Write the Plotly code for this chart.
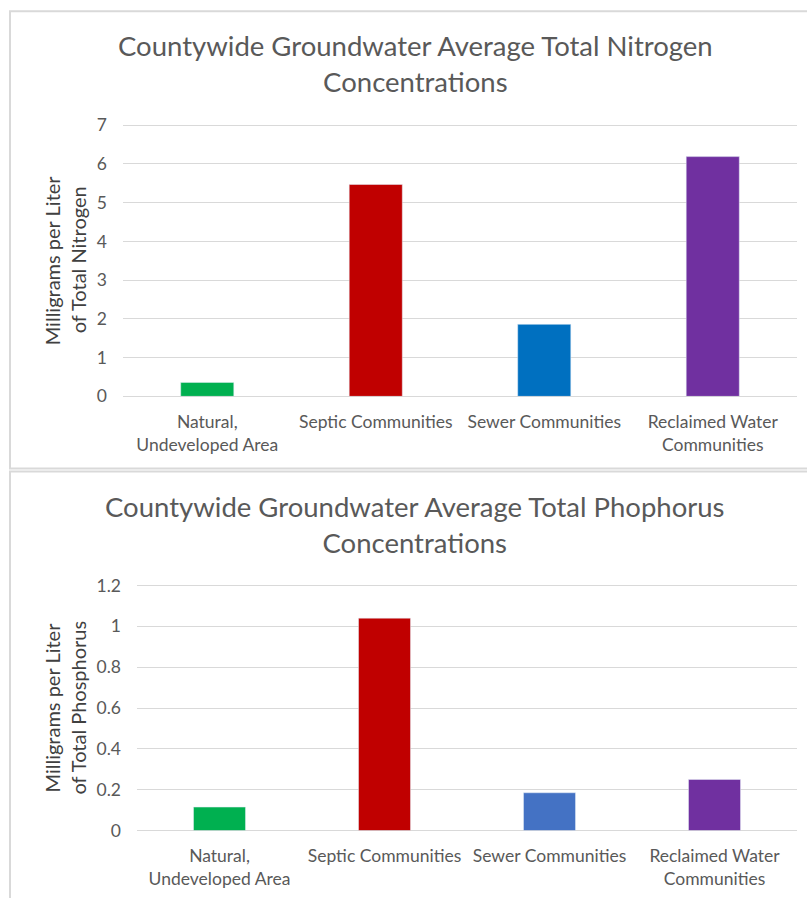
import plotly.graph_objects as go

categories = ["Natural,<br>Undeveloped Area", "Septic Communities",
              "Sewer Communities", "Reclaimed Water<br>Communities"]
nitrogen = [0.36, 5.47, 1.86, 6.19]
phosphorus = [0.115, 1.04, 0.185, 0.25]
colors_n = ["#00b050", "#c00000", "#0070c0", "#7030a0"]
colors_p = ["#00b050", "#c00000", "#4472c4", "#7030a0"]
y_ticks_n = [0, 1, 2, 3, 4, 5, 6, 7]
y_ticks_p = [0, 0.2, 0.4, 0.6, 0.8, 1.0, 1.2]
y_ticktext_p = ["0", "0.2", "0.4", "0.6", "0.8", "1", "1.2"]

W, H = 807, 898
FONT = "Lato"
GRAY = "#595959"
GRID = "#d9d9d9"

# empirical vertical calibration of the photographed page
VA, VB = 0.9773, 9.8


def px(x):
    return x / W


def py(y):
    return 1 - ((y - VB) / VA) / H


# pixel layout of the reference (screen coords)
n_y0, n_yt, n_max = 396, 125, 7.0
p_y0, p_yt, p_max = 830, 585, 1.2
n_rng = 7.03
p_rng = 1.205
n_top = n_y0 - n_rng * (n_y0 - n_yt) / n_max
p_top = p_y0 - p_rng * (p_y0 - p_yt) / p_max

fig = go.Figure()
fig.add_trace(go.Bar(x=categories, y=nitrogen, marker_color=colors_n,
                     xaxis="x", yaxis="y", width=0.315, showlegend=False))
fig.add_trace(go.Bar(x=categories, y=phosphorus, marker_color=colors_p,
                     xaxis="x2", yaxis="y2", width=0.315, showlegend=False))

xcommon = dict(showgrid=False, zeroline=False, showline=False, ticks="",
               tickfont=dict(family=FONT, size=17.5, color=GRAY),
               ticklabelstandoff=13, fixedrange=True)
ycommon = dict(showgrid=True, gridcolor=GRID, gridwidth=1, zeroline=True,
               zerolinecolor=GRID, zerolinewidth=1, showline=False, ticks="",
               tickfont=dict(family=FONT, size=17.5, color=GRAY),
               ticklabelstandoff=15, fixedrange=True)

fig.update_layout(
    width=W, height=H,
    margin=dict(l=0, r=0, t=0, b=0),
    paper_bgcolor="white", plot_bgcolor="white",
    font=dict(family=FONT, color=GRAY),
    xaxis=dict(domain=[px(123), px(797)], anchor="y", **xcommon),
    yaxis=dict(domain=[py(n_y0), py(n_top)], anchor="x", range=[0, n_rng],
               tickvals=y_ticks_n, **ycommon),
    xaxis2=dict(domain=[px(137), px(797)], anchor="y2", **xcommon),
    yaxis2=dict(domain=[py(p_y0), py(p_top)], anchor="x2", range=[0, p_rng],
                tickvals=y_ticks_p, ticktext=y_ticktext_p, **ycommon),
    bargap=0.685,
)

# panel borders
fig.add_shape(type="rect", xref="paper", yref="paper",
              x0=px(10), x1=px(830), y0=py(468), y1=min(py(11), 0.999),
              line=dict(color=GRID, width=2), fillcolor="rgba(0,0,0,0)")
fig.add_shape(type="rect", xref="paper", yref="paper",
              x0=px(10), x1=px(830), y0=-0.05, y1=py(471),
              line=dict(color=GRID, width=2), fillcolor="rgba(0,0,0,0)")

# titles
fig.add_annotation(text="Countywide Groundwater Average Total Nitrogen<br>Concentrations",
                   xref="paper", yref="paper", x=px(415), y=py(63),
                   xanchor="center", yanchor="middle", showarrow=False,
                   font=dict(family=FONT, size=27.5, color=GRAY))
fig.add_annotation(text="Countywide Groundwater Average Total Phophorus<br>Concentrations",
                   xref="paper", yref="paper", x=px(415), y=py(524),
                   xanchor="center", yanchor="middle", showarrow=False,
                   font=dict(family=FONT, size=27.5, color=GRAY))

# y-axis titles (two lines each)
for (txt, xc, yc) in [("Milligrams per Liter", 52, 260), ("of Total Nitrogen", 78, 260),
                      ("Milligrams per Liter", 52, 707), ("of Total Phosphorus", 78, 707)]:
    fig.add_annotation(text=txt, xref="paper", yref="paper", x=px(xc), y=py(yc),
                       xanchor="center", yanchor="middle", showarrow=False,
                       textangle=-90, font=dict(family=FONT, size=20, color="#404040"))

fig.write_html(
    "out.html",
    config={"displayModeBar": False},
    post_script=("document.body.style.margin='0';"
                 "document.documentElement.style.overflow='hidden';"
                 "document.body.style.overflow='hidden';"),
)
